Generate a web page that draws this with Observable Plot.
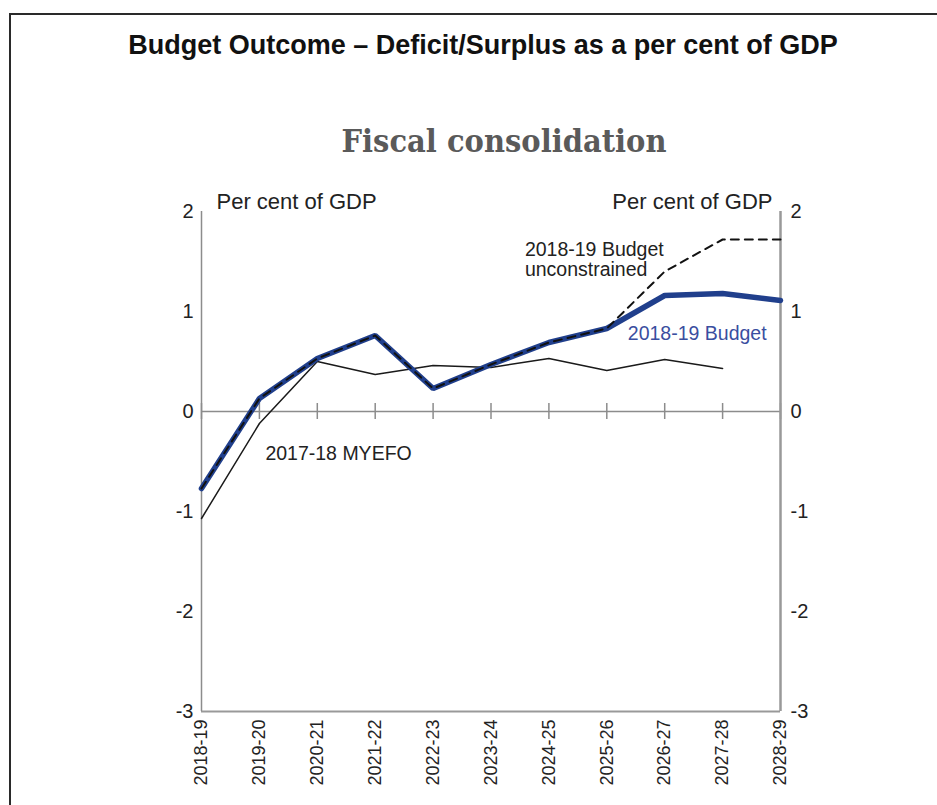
<!DOCTYPE html>
<html>
<head>
<meta charset="utf-8">
<script src="https://cdn.jsdelivr.net/npm/d3@7"></script>
<script src="https://cdn.jsdelivr.net/npm/@observablehq/plot@0.6"></script>
<style>
html, body { margin: 0; padding: 0; background: #fff; overflow: hidden; width: 937px; height: 805px; }
#frame { position: absolute; left: 9px; top: 13px; width: 1000px; height: 900px; border-left: 2px solid #2a2a2a; border-top: 2px solid #2a2a2a; z-index: 3; pointer-events: none; }
#title { position: absolute; left: 0; width: 966px; top: 29px; text-align: center; font: bold 27px "Liberation Sans", Arial, sans-serif; color: #111; line-height: 32px; z-index: 2; white-space: nowrap; }
#subtitle { position: absolute; left: 504px; top: 121px; font: bold 32px "DejaVu Serif", serif; color: #5a5a5a; line-height: 40px; white-space: nowrap; z-index: 2; transform-origin: 0 50%; }
#chart { position: absolute; left: 0; top: 0; z-index: 1; }
</style>
</head>
<body>
<div id="frame"></div>
<div id="title">Budget Outcome – Deficit/Surplus as a per cent of GDP</div>
<div id="subtitle">Fiscal consolidation</div>
<div id="chart"></div>
<script>
const years = ["2018-19", "2019-20", "2020-21", "2021-22", "2022-23", "2023-24", "2024-25", "2025-26", "2026-27", "2027-28", "2028-29"];
const budget = [-0.77, 0.13, 0.53, 0.76, 0.23, 0.47, 0.69, 0.83, 1.16, 1.18, 1.11];
const unconstrained = [-0.77, 0.13, 0.53, 0.76, 0.23, 0.47, 0.69, 0.83, 1.40, 1.72, 1.72];
const myefo = [-1.07, -0.12, 0.50, 0.37, 0.46, 0.44, 0.53, 0.41, 0.52, 0.43, null];
const yTicks = [-3, -2, -1, 0, 1, 2];
const unitLabel = "Per cent of GDP";
const budgetLabel = "2018-19 Budget";
const unconstrainedLabel = "2018-19 Budget\nunconstrained";
const myefoLabel = "2017-18 MYEFO";

const toRows = (vals) => years.map((y, i) => ({year: y, value: vals[i]}));
const fmt = (d) => String(d);
const axisGrey = "#8c8c8c";
const last = years[years.length - 1];

const chart = Plot.plot({
  width: 937,
  height: 805,
  marginTop: 211,
  marginBottom: 94,
  marginLeft: 201,
  marginRight: 157,
  style: {fontFamily: '"Liberation Sans", Arial, sans-serif', fontSize: "20px", color: "#222", background: "transparent", overflow: "visible"},
  x: {type: "point", domain: years, padding: 0, round: false, label: null},
  y: {domain: [-3, 2], label: null},
  marks: [
    Plot.ruleY([0], {stroke: axisGrey, strokeWidth: 1.5}),
    Plot.ruleX(years, {x: d => d, y1: 0, y2: 0, insetTop: -8, insetBottom: -8, stroke: axisGrey, strokeWidth: 1.5}),
    Plot.ruleY([-3], {stroke: "#999", strokeWidth: 2}),
    Plot.ruleX([years[0]], {x: d => d, stroke: axisGrey, strokeWidth: 1.5}),
    Plot.ruleX([last], {x: d => d, stroke: "#999", strokeWidth: 2.5}),
    Plot.ruleY(yTicks, {y: d => d, x1: last, x2: last, insetLeft: -4, stroke: "#999", strokeWidth: 1.5}),
    Plot.axisX({anchor: "bottom", tickRotate: -90, tickSize: 0, tickPadding: 8, fontSize: 18, label: null}),
    Plot.axisY({anchor: "left", ticks: yTicks, tickSize: 0, tickPadding: 8, tickFormat: fmt, label: null}),
    Plot.axisY({anchor: "right", ticks: yTicks, tickSize: 0, tickPadding: 10, tickFormat: fmt, label: null}),
    Plot.line(toRows(myefo), {x: "year", y: "value", stroke: "#1a1a1a", strokeWidth: 1.5}),
    Plot.line(toRows(budget), {x: "year", y: "value", stroke: "#203f8c", strokeWidth: 5.5, strokeLinejoin: "miter"}),
    Plot.line(toRows(unconstrained), {x: "year", y: "value", stroke: "#111", strokeWidth: 2, strokeDasharray: "8,6"}),
    Plot.text([unitLabel], {text: d => d, frameAnchor: "top-left", dx: 15, dy: -10, textAnchor: "start", lineAnchor: "middle", fontSize: 22, fill: "#222"}),
    Plot.text([unitLabel], {text: d => d, frameAnchor: "top-right", dx: -8, dy: -10, textAnchor: "end", lineAnchor: "middle", fontSize: 22, fill: "#222"}),
    Plot.text([budgetLabel], {text: d => d, x: ["2025-26"], y: [0.78], dx: 21, textAnchor: "start", lineAnchor: "middle", fontSize: 19.5, fill: "#3a4ea0"}),
    Plot.text([unconstrainedLabel], {text: d => d, x: ["2024-25"], y: [1.52], dx: -24, textAnchor: "start", lineAnchor: "middle", lineHeight: 1.05, fontSize: 19.5, fill: "#222"}),
    Plot.text([myefoLabel], {text: d => d, x: ["2019-20"], y: [-0.42], dx: 6, textAnchor: "start", lineAnchor: "middle", fontSize: 19.5, fill: "#222"})
  ]
});
document.getElementById("chart").appendChild(chart);

// fit the subtitle to its width in the reference
const sub = document.getElementById("subtitle");
const w = sub.getBoundingClientRect().width;
const target = 325;
sub.style.transform = `translateX(${-target / 2}px) scaleX(${target / w})`;
</script>
</body>
</html>
